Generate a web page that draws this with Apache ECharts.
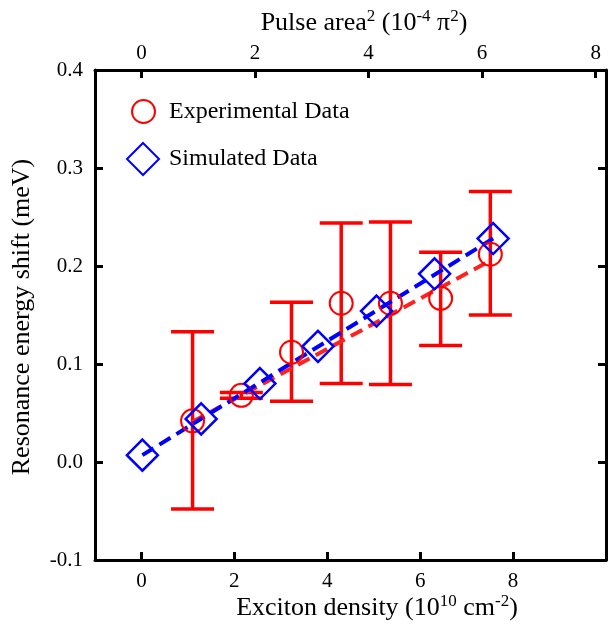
<!DOCTYPE html>
<html>
<head>
<meta charset="utf-8">
<script src="https://cdn.jsdelivr.net/npm/echarts@6/dist/echarts.min.js"></script>
<style>html,body{margin:0;padding:0;background:#fff}#c{width:608px;height:628px}</style>
</head>
<body>
<div id="c"></div>
<script>
// Experimental data (x in 10^10 cm^-2, y in meV)
const expX = [1.10, 2.15, 3.23, 4.30, 5.36, 6.44, 7.51];
const expY = [0.042, 0.068, 0.112, 0.162, 0.162, 0.167, 0.212];
const expLow = [-0.048, 0.065, 0.062, 0.080, 0.079, 0.119, 0.150];
const expHigh = [0.133, 0.071, 0.163, 0.244, 0.245, 0.214, 0.276];
// Simulated data
const simX = [0.02, 1.285, 2.55, 3.80, 5.06, 6.31, 7.57];
const simY = [0.007, 0.044, 0.080, 0.118, 0.154, 0.192, 0.228];
// Dashed fit lines (endpoints)
const expFitX = [1.10, 7.45];
const expFitY = [0.041, 0.204];
const simFitX = [0.02, 7.57];
const simFitY = [0.007, 0.228];
// Tick labels
const bottomTicks = [0, 2, 4, 6, 8];
const topTicks = [0, 2, 4, 6, 8];

const FONT = 'Liberation Serif';
const chart = echarts.init(document.getElementById('c'), null, {renderer: 'canvas'});

const zip = (a, b) => a.map((v, i) => [v, b[i]]);
const errData = expX.map((x, i) => [x, expLow[i], expHigh[i]]);

const axisCommon = {
  type: 'value',
  axisLine: {show: true, onZero: false, lineStyle: {color: '#000', width: 3}},
  splitLine: {show: false},
};
const supStyle = {fontSize: 17, fontFamily: FONT, verticalAlign: 'top', lineHeight: 29, fill: '#000'};

const option = {
  animation: false,
  backgroundColor: '#fff',
  grid: {left: 95, right: 2, top: 70, bottom: 68, containLabel: false},
  xAxis: [
    Object.assign({}, axisCommon, {
      position: 'bottom', min: -1, max: 10,
      axisTick: {show: true, inside: true, length: 8, lineStyle: {color: '#000', width: 3}, customValues: bottomTicks},
      axisLabel: {customValues: bottomTicks, color: '#000', fontFamily: FONT, fontSize: 21, margin: 11}
    }),
    Object.assign({}, axisCommon, {
      position: 'top', min: -0.818, max: 8.182,
      axisTick: {show: true, inside: true, length: 8, lineStyle: {color: '#000', width: 3}, customValues: topTicks},
      axisLabel: {customValues: topTicks, color: '#000', fontFamily: FONT, fontSize: 21, margin: 6}
    })
  ],
  yAxis: [
    Object.assign({}, axisCommon, {
      position: 'left', min: -0.1, max: 0.4, interval: 0.1,
      axisTick: {show: true, inside: true, length: 8, lineStyle: {color: '#000', width: 3}},
      axisLabel: {color: '#000', fontFamily: FONT, fontSize: 21, margin: 12,
        formatter: v => (Math.abs(v) < 1e-9 ? 0 : v).toFixed(1)}
    }),
    Object.assign({}, axisCommon, {
      position: 'right', min: -0.1, max: 0.4, interval: 0.1,
      axisTick: {show: true, inside: true, length: 8, lineStyle: {color: '#000', width: 3}},
      axisLabel: {show: false}
    })
  ],
  legend: [
    {
      data: ['Experimental Data'], orient: 'vertical', left: 131, top: 99,
      itemWidth: 23, itemHeight: 23, itemGap: 10,
      textStyle: {fontFamily: FONT, fontSize: 24, color: '#000', padding: [0, 0, 0, 9]}, padding: 0
    },
    {
      data: ['Simulated Data'], orient: 'vertical', left: 126, top: 142,
      itemWidth: 32, itemHeight: 32, itemGap: 10,
      textStyle: {fontFamily: FONT, fontSize: 24, color: '#000', padding: [0, 0, 0, 5]}, padding: 0
    }
  ],
  graphic: [
    {
      type: 'text', x: 364, y: 23,
      style: {
        text: 'Pulse area{sup|2} (10{sup|-4} π{sup|2})',
        font: '26px "' + FONT + '"', fill: '#000', align: 'center', verticalAlign: 'middle',
        rich: {sup: supStyle}
      }
    },
    {
      type: 'text', x: 377, y: 608,
      style: {
        text: 'Exciton density (10{sup|10} cm{sup|-2})',
        font: '26px "' + FONT + '"', fill: '#000', align: 'center', verticalAlign: 'middle',
        rich: {sup: supStyle}
      }
    },
    {
      type: 'text', x: 22, y: 317, rotation: Math.PI / 2,
      style: {
        text: 'Resonance energy shift (meV)',
        font: '26px "' + FONT + '"', fill: '#000',
        align: 'center', verticalAlign: 'middle'
      }
    }
  ],
  series: [
    {
      type: 'custom', name: 'errorbars', xAxisIndex: 0, yAxisIndex: 0,
      data: errData, z: 1,
      renderItem: function (params, api) {
        const x = api.value(0);
        const lo = api.coord([x, api.value(1)]);
        const hi = api.coord([x, api.value(2)]);
        const hw = 21.5;
        const st = {stroke: '#ff0000', lineWidth: 3.5};
        return {
          type: 'group',
          children: [
            {type: 'line', shape: {x1: lo[0], y1: lo[1], x2: hi[0], y2: hi[1]}, style: st},
            {type: 'line', shape: {x1: lo[0] - hw, y1: lo[1], x2: lo[0] + hw, y2: lo[1]}, style: st},
            {type: 'line', shape: {x1: hi[0] - hw, y1: hi[1], x2: hi[0] + hw, y2: hi[1]}, style: st}
          ]
        };
      }
    },
    {
      type: 'line', name: 'expFit', data: zip(expFitX, expFitY), symbol: 'none', z: 2,
      lineStyle: {color: '#ff2020', width: 4, type: [13, 7]}
    },
    {
      type: 'line', name: 'simFit', data: zip(simFitX, simFitY), symbol: 'none', z: 3,
      lineStyle: {color: '#0000ff', width: 4, type: [13, 7]}
    },
    {
      type: 'scatter', name: 'Experimental Data', data: zip(expX, expY), symbol: 'circle', symbolSize: 23, z: 4,
      itemStyle: {color: 'rgba(255,255,255,0)', borderColor: '#ff0000', borderWidth: 2, opacity: 1}
    },
    {
      type: 'scatter', name: 'Simulated Data', data: zip(simX, simY), symbol: 'diamond', symbolSize: 31, z: 5,
      itemStyle: {color: 'rgba(255,255,255,0)', borderColor: '#0000ff', borderWidth: 2.5, opacity: 1}
    }
  ]
};
chart.setOption(option);
</script>
</body>
</html>
